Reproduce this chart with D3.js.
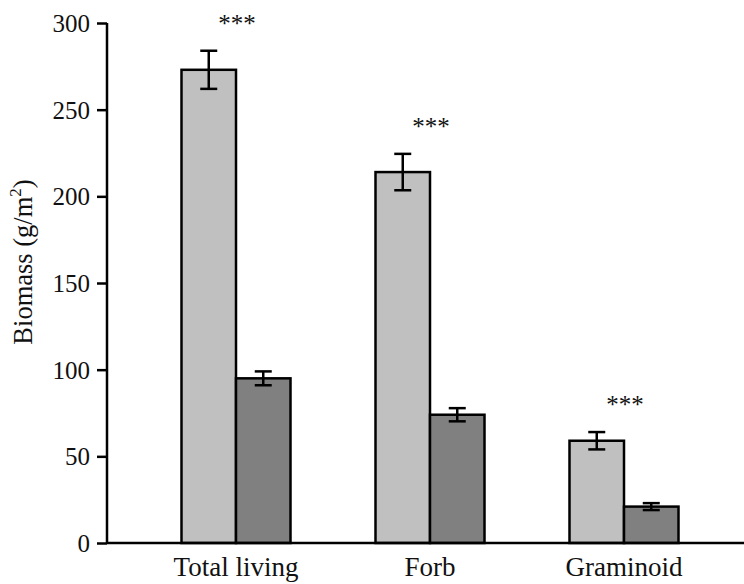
<!DOCTYPE html>
<html>
<head>
<meta charset="utf-8">
<script src="https://cdn.jsdelivr.net/npm/d3@7"></script>
<style>
  html, body { margin: 0; padding: 0; background: #fff; }
  svg text { font-family: "Liberation Serif", "Times New Roman", serif; fill: #111; }
</style>
</head>
<body>
<svg id="chart" width="744" height="584"></svg>
<script>
const categories = ["Total living", "Forb", "Graminoid"];
const seriesNames = ["A", "B"];
const meansA = [273, 214, 59];
const errA = [11, 10.5, 5];
const meansB = [95, 74, 21];
const errB = [4, 3.8, 2];
const signif = ["***", "***", "***"];
const yTicks = [0, 50, 100, 150, 200, 250, 300];

const colors = { A: "#c0c0c0", B: "#808080" };

const svg = d3.select("#chart");
const y = d3.scaleLinear().domain([0, 300]).range([543, 23]);
const x = d3.scaleBand().domain(categories).range([139, 721]);
const x1 = d3.scaleBand().domain(seriesNames).range([42.5, 151.5]);

const data = [];
categories.forEach((c, i) => {
  data.push({ cat: c, s: "A", v: meansA[i], e: errA[i] });
  data.push({ cat: c, s: "B", v: meansB[i], e: errB[i] });
});

// bars
svg.append("g").selectAll("rect").data(data).join("rect")
  .attr("x", d => x(d.cat) + x1(d.s))
  .attr("y", d => y(d.v))
  .attr("width", x1.bandwidth())
  .attr("height", d => y(0) - y(d.v))
  .attr("fill", d => colors[d.s])
  .attr("stroke", "#000")
  .attr("stroke-width", 2.5);

// error bars
const eb = svg.append("g").selectAll("g").data(data).join("g")
  .attr("stroke", "#000").attr("stroke-width", 2.5);
const cx = d => x(d.cat) + x1(d.s) + x1.bandwidth() / 2;
eb.append("line")
  .attr("x1", cx).attr("x2", cx)
  .attr("y1", d => y(d.v + d.e)).attr("y2", d => y(d.v - d.e));
eb.append("line")
  .attr("x1", d => cx(d) - 8.5).attr("x2", d => cx(d) + 8.5)
  .attr("y1", d => y(d.v + d.e)).attr("y2", d => y(d.v + d.e));
eb.append("line")
  .attr("x1", d => cx(d) - 8.5).attr("x2", d => cx(d) + 8.5)
  .attr("y1", d => y(d.v - d.e)).attr("y2", d => y(d.v - d.e));

// significance stars
svg.append("g").selectAll("text").data(categories).join("text")
  .attr("x", c => x(c) + x.bandwidth() / 2 + 1)
  .attr("y", (c, i) => y(meansA[i] + errA[i]) - 31 + 12)
  .attr("text-anchor", "middle")
  .attr("font-size", 25)
  .text((c, i) => signif[i]);

// y axis
const yAxis = d3.axisLeft(y).tickValues(yTicks).tickSize(10).tickPadding(7).tickFormat(d3.format("d"));
const gy = svg.append("g").attr("transform", "translate(107,0)").call(yAxis);
gy.select(".domain").attr("stroke", "#000").attr("stroke-width", 2.5).attr("d", `M0,${y(300)}V${y(0)}`);
gy.selectAll(".tick line").attr("stroke", "#000").attr("stroke-width", 2.5);
gy.selectAll(".tick text").attr("font-size", 25).attr("font-family", "Liberation Serif").attr("fill", "#111").attr("dy", "0.34em");

// x axis
const xAxis = d3.axisBottom(x).tickSize(0).tickPadding(14);
const gx = svg.append("g").attr("transform", `translate(0,${y(0)})`).call(xAxis);
gx.select(".domain").attr("stroke", "#000").attr("stroke-width", 2.5).attr("d", "M107,0H744");
gx.selectAll(".tick text").attr("font-size", 27).attr("font-family", "Liberation Serif").attr("fill", "#111").attr("dy", "0.71em");

// y label
const yl = svg.append("text")
  .attr("transform", "translate(32,262) rotate(-90)")
  .attr("text-anchor", "middle")
  .attr("font-size", 26.5);
yl.append("tspan").text("Biomass (g/m");
yl.append("tspan").attr("font-size", 17).attr("dy", -11).text("2");
yl.append("tspan").attr("dy", 11).text(")");
</script>
</body>
</html>
